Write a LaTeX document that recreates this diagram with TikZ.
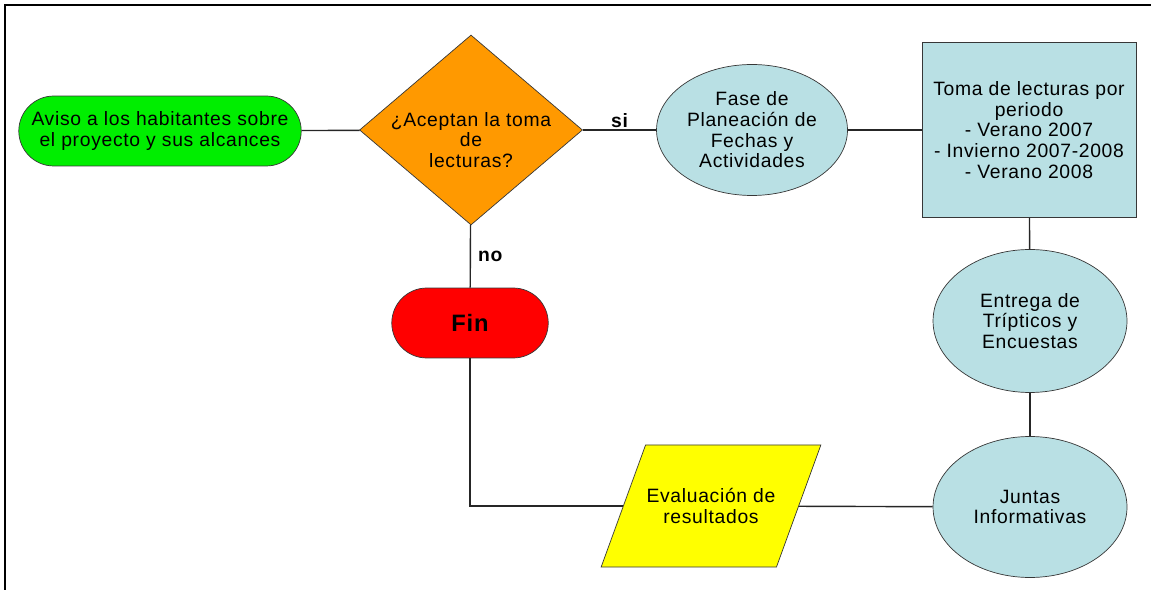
\documentclass[tikz,border=0pt]{standalone}
\usepackage{fontspec}
\setmainfont{Liberation Sans}[LetterSpace=3.5]
\usetikzlibrary{shapes.geometric,shapes.misc}

\definecolor{verde}{RGB}{0,238,0}
\definecolor{naranja}{RGB}{255,153,0}
\definecolor{celeste}{RGB}{185,224,228}
\definecolor{rojo}{RGB}{255,0,0}
\definecolor{amarillo}{RGB}{255,255,0}
\definecolor{borde}{RGB}{55,55,55}

\begin{document}
\begin{tikzpicture}[x=0.02cm,y=-0.02cm,
  every node/.style={font=\fontsize{11}{11.8}\selectfont,align=center,inner sep=1pt},
  terminal/.style={draw=borde,rounded rectangle,minimum height=1.4cm},
  decision/.style={draw=borde,diamond,aspect=1.17,fill=naranja,minimum width=4.46cm,minimum height=3.8cm},
  proceso/.style={draw=borde,ellipse,fill=celeste},
  caja/.style={draw=borde,rectangle,fill=celeste,minimum width=4.28cm,minimum height=3.5cm},
  datos/.style={draw=borde,trapezium,trapezium left angle=70,trapezium right angle=110,fill=amarillo,inner xsep=0.02cm,inner ysep=0.87cm},
  linea/.style={line width=0.8pt,draw=black!85},
  etiqueta/.style={font=\fontsize{11}{12}\selectfont\bfseries}]
  \useasboundingbox (0,0) rectangle (1151,590);
  \draw[line width=1.2pt] (5,590) -- (5,5) -- (1151,5);

  \node[terminal,fill=verde,minimum width=5.72cm] (aviso) at (160,131) {Aviso a los habitantes sobre\\el proyecto y sus alcances};
  \node[decision,label={[yshift=-0.2cm]center:¿Aceptan la toma\\de\\lecturas?}] (pregunta) at (471,130) {};
  \node[proceso,minimum width=3.82cm,minimum height=2.62cm] (fase) at (752,130) {Fase de\\Planeación de\\Fechas y\\Actividades};
  \node[caja] (toma) at (1029,130) {Toma de lecturas por\\periodo\\- Verano 2007\\- Invierno 2007-2008\\- Verano 2008};
  \node[proceso,minimum width=3.88cm,minimum height=2.86cm] (entrega) at (1030,321) {Entrega de\\Trípticos y\\Encuestas};
  \node[proceso,minimum width=3.88cm,minimum height=2.82cm] (juntas) at (1030,507) {Juntas\\Informativas};
  \node[datos] (evaluacion) at (711,506) {Evaluación de\\resultados};
  \node[terminal,fill=rojo,minimum width=3.2cm,font=\fontsize{13.5}{14}\selectfont\bfseries] (fin) at (470,323) {Fin};

  \draw[linea] (aviso) -- (pregunta);
  \draw[linea] (pregunta) -- node[etiqueta,above] {si} (fase);
  \draw[linea] (fase) -- (toma);
  \draw[linea] (toma) -- (entrega);
  \draw[linea] (entrega) -- (juntas);
  \draw[linea] (juntas) -- (evaluacion);
  \draw[linea] (evaluacion) -| (fin);
  \draw[linea] (pregunta) -- node[etiqueta,right=3pt] {no} (fin);
\end{tikzpicture}
\end{document}
